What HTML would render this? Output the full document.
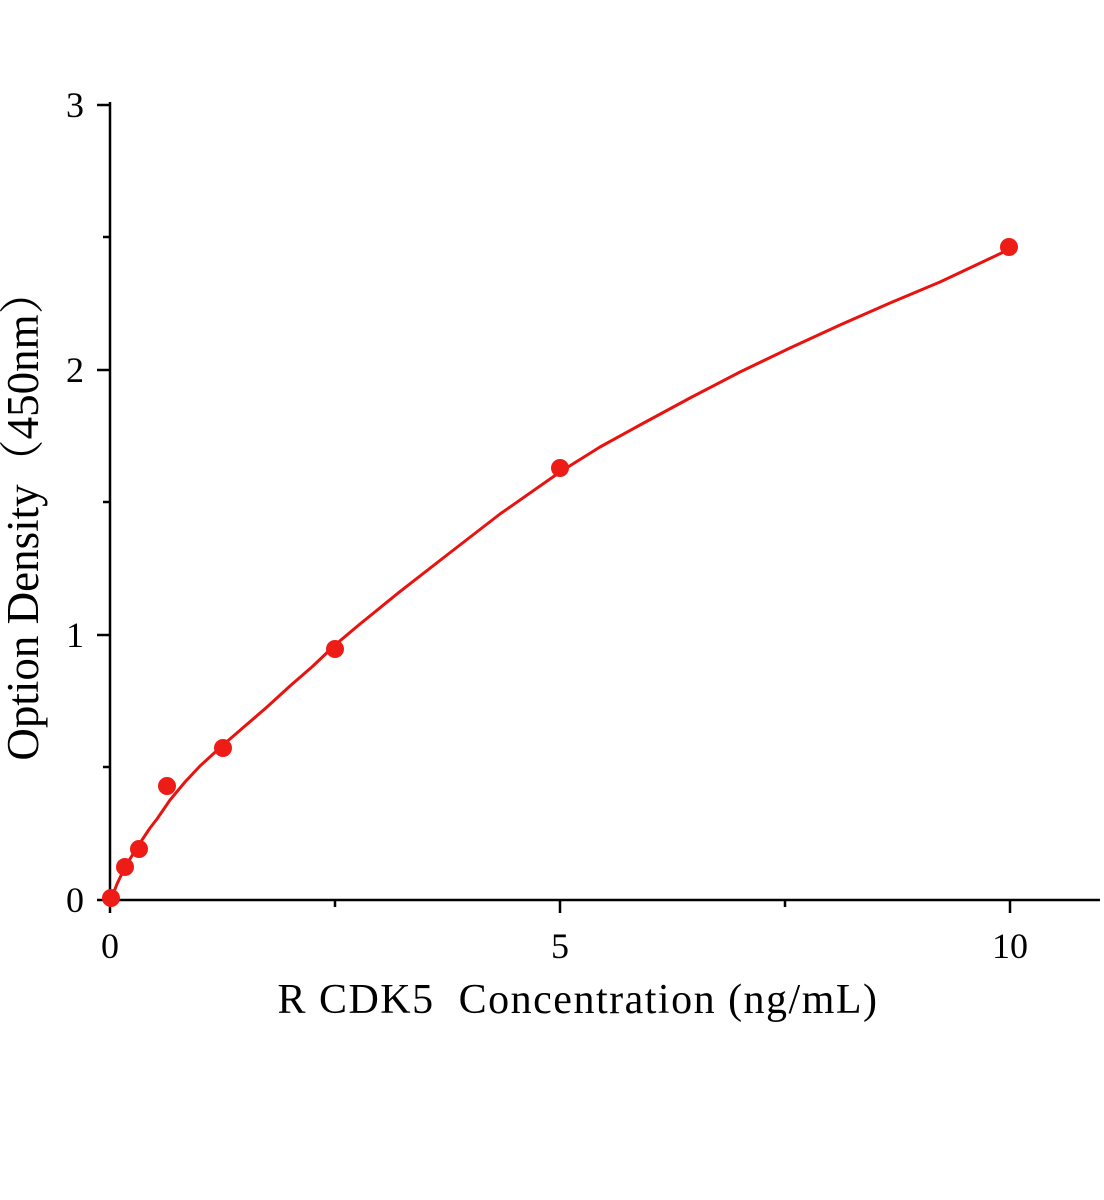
<!DOCTYPE html>
<html><head><meta charset="utf-8"><style>html,body{margin:0;padding:0;background:#fff}</style></head>
<body>
<svg width="1104" height="1200" xmlns="http://www.w3.org/2000/svg" style="display:block">
<g stroke="#000" stroke-width="2.5" fill="none">
<line x1="110" y1="102" x2="110" y2="901"/>
<line x1="109" y1="900" x2="1100" y2="900"/>
<line x1="97" y1="105" x2="110" y2="105"/>
<line x1="97" y1="370" x2="110" y2="370"/>
<line x1="97" y1="635" x2="110" y2="635"/>
<line x1="97" y1="900" x2="110" y2="900"/>
<line x1="103" y1="237" x2="110" y2="237"/>
<line x1="103" y1="502" x2="110" y2="502"/>
<line x1="103" y1="767" x2="110" y2="767"/>
<line x1="110" y1="900" x2="110" y2="913"/>
<line x1="560" y1="900" x2="560" y2="913"/>
<line x1="1010" y1="900" x2="1010" y2="913"/>
<line x1="335" y1="900" x2="335" y2="907"/>
<line x1="785" y1="900" x2="785" y2="907"/>
</g>
<g font-family="Liberation Serif, serif" font-size="36" fill="#000">
<text x="84" y="117" text-anchor="end">3</text>
<text x="84" y="382" text-anchor="end">2</text>
<text x="84" y="647" text-anchor="end">1</text>
<text x="84" y="912" text-anchor="end">0</text>
<text x="110" y="958" text-anchor="middle">0</text>
<text x="560" y="958" text-anchor="middle">5</text>
<text x="1010" y="958" text-anchor="middle">10</text>
</g>
<text x="578" y="1013" text-anchor="middle" font-family="Liberation Serif, serif" font-size="42" letter-spacing="1.5" xml:space="preserve">R CDK5  Concentration (ng/mL)</text>
<text transform="translate(38,515) rotate(-90)" text-anchor="middle" font-family="Liberation Serif, 'Noto Serif CJK SC', serif" font-size="45">Option Density（450nm）</text>
<polyline fill="none" stroke="#e8130f" stroke-width="3" stroke-linejoin="round" points="110,902 117,884 125,867 138,846 150,828 157,819 170,800 185,782 200,766 223,745 245,726 267,707 290,686 313,666 335,645 360,624 400,591.6 447,555 500,514 560,472 600,447 640,425 690,398 740,372 790,348 840,325 890,303 940,282 975,265.5 1010,249"/>
<g fill="#ee1c16">
<circle cx="111" cy="898" r="9"/>
<circle cx="125" cy="867" r="9"/>
<circle cx="139" cy="849" r="9"/>
<circle cx="167" cy="786" r="9"/>
<circle cx="223" cy="748" r="9"/>
<circle cx="335" cy="649" r="9"/>
<circle cx="560" cy="468" r="9"/>
<circle cx="1009" cy="247" r="9"/>
</g>
</svg>
</body></html>
